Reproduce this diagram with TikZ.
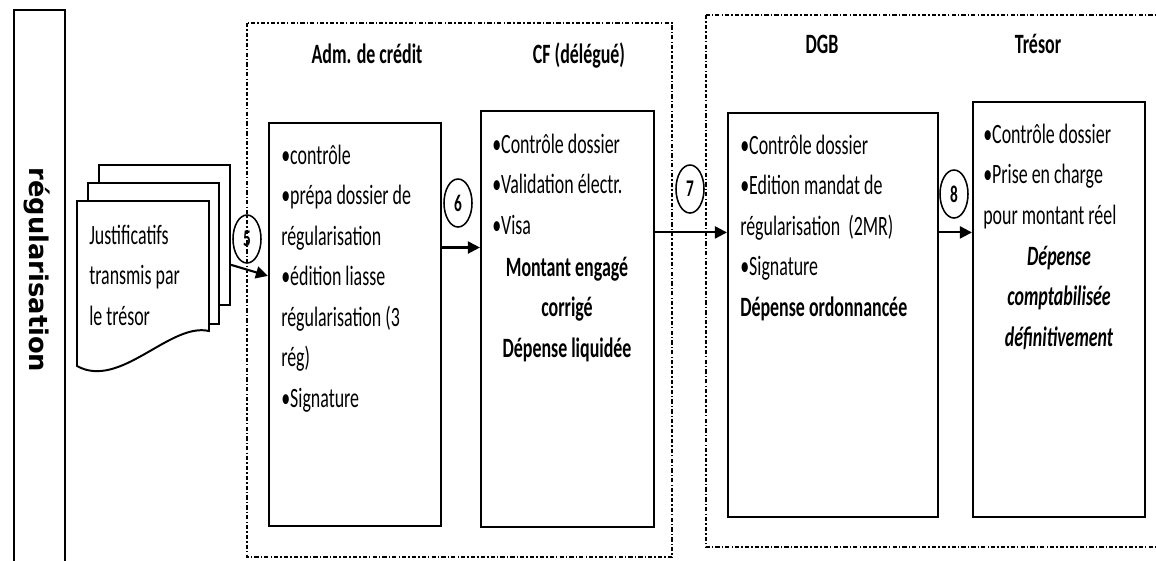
\documentclass[tikz,border=0pt]{standalone}
\usepackage{fontspec}
\setmainfont{Carlito}[FakeStretch=0.64]
\newfontfamily\sidefont{DejaVu Sans}
\usetikzlibrary{arrows.meta,shapes.geometric,calc}
\begin{document}
\begin{tikzpicture}[x=0.025cm, y=-0.025cm,
    stage/.style={rectangle, draw, line width=1.5pt, inner sep=0},
    sheet/.style={rectangle, draw, fill=white, line width=1.4pt, inner sep=0},
    txt/.style={align=left, inner sep=0, font=\fontsize{19.9}{28.8}\selectfont},
    head/.style={inner sep=0, font=\fontsize{19.9}{24}\selectfont\bfseries},
    num/.style={ellipse, draw, line width=1.1pt, minimum width=0.7cm, minimum height=1.2cm, inner sep=0, font=\fontsize{17}{17}\selectfont\bfseries},
    flow/.style={-{Triangle[length=0.3cm, width=0.3cm]}, line width=1.5pt},
    group/.style={line width=1pt, dash pattern=on 3pt off 1.5pt on 1pt off 1.5pt}]
    \useasboundingbox (0,0) rectangle (1156,560);
    \node [stage, minimum width=1.275cm, minimum height=14cm] (side) at (39.5,290) {};
    \node [rotate=-90, inner sep=0, font=\sidefont\bfseries\fontsize{18.3}{18.3}\selectfont] (sidelabel) at (37,270) {régularisation};
    \draw [group] (247,23) rectangle (672,557);
    \draw [group] (706,15) rectangle (1170,547);
    \node [head, anchor=base] (hadm) at (367,63) {Adm. de crédit};
    \node [head, anchor=base] (hcf) at (579,63) {CF (délégué)};
    \node [head, anchor=base] (hdgb) at (822,53) {DGB};
    \node [head, anchor=base] (htresor) at (1038,53) {Trésor};
    \node [sheet, minimum width=3.275cm, minimum height=3.5cm] (doc3) at (164.5,235) {};
    \node [sheet, minimum width=3.275cm, minimum height=3.525cm] (doc2) at (153.5,253.5) {};
    \draw [line width=1.4pt, fill=white] (77,201) -- (209,201) -- (209,331) .. controls (170,322) and (120,390) .. (77,366) -- cycle;
    \node [txt, anchor=base west] (justif) at (89,325) {Justificatifs\\transmis par\\le trésor};
    \node [stage, minimum width=4.3cm, minimum height=10.075cm] (adm) at (355,324.5) {};
    \node [stage, minimum width=4.325cm, minimum height=10.4cm] (cf) at (567.5,319) {};
    \node [stage, minimum width=5.25cm, minimum height=10.1cm] (dgb) at (833,315) {};
    \node [stage, minimum width=4.3cm, minimum height=10.375cm] (tresor) at (1059,309.5) {};
    \node [txt, anchor=base west] (admtxt) at (281,407) {•contrôle\\•prépa dossier de\\régularisation\\•édition liasse\\régularisation (3\\rég)\\•Signature};
    \node [txt, anchor=base west] (cftxt) at (492,234) {•Contrôle dossier\\•Validation électr.\\•Visa};
    \node [txt, align=center, anchor=base, font=\fontsize{19.9}{28.8}\selectfont\bfseries] (cfres) at (567,357) {Montant engagé\\corrigé\\Dépense liquidée};
    \node [txt, anchor=base west] (dgbtxt) at (740,316) {•Contrôle dossier\\•Edition mandat de\\régularisation~~(2MR)\\•Signature\\\textbf{Dépense ordonnancée}};
    \node [txt, anchor=base west] (trtxt) at (983,224) {•Contrôle dossier\\•Prise en charge\\pour montant réel};
    \node [txt, align=center, anchor=base, font=\fontsize{19.9}{28.8}\selectfont\bfseries\itshape] (trres) at (1059,346) {Dépense\\comptabilisée\\définitivement};
    \node [num] (n5) at (247,239) {5};
    \node [num] (n6) at (458,203) {6};
    \node [num] (n7) at (690,189) {7};
    \node [num] (n8) at (954,194) {8};
    \coordinate (s6) at ($(adm.north east)!0.31!(adm.south east)$);
    \coordinate (s7) at ($(cf.north east)!0.293!(cf.south east)$);
    \draw [flow] ($(doc3.south east)!0.29!(doc3.north east)$) -- ($(adm.north west)!0.38!(adm.south west)$);
    \draw [flow] (s6) -- (cf.west |- s6);
    \draw [flow] (s7) -- (dgb.west |- s7);
    \draw [flow] (dgb.east |- s7) -- (tresor.west |- s7);
\end{tikzpicture}
\end{document}
